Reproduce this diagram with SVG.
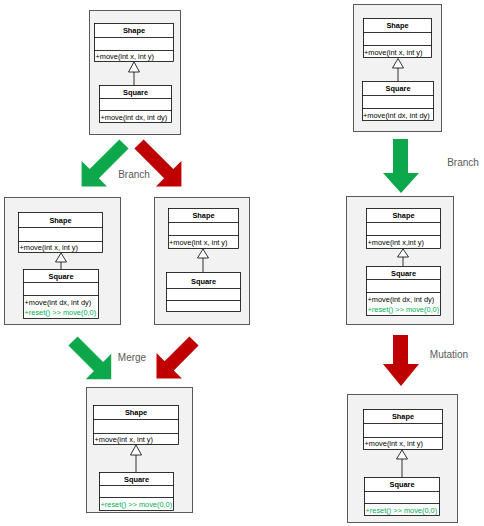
<svg xmlns="http://www.w3.org/2000/svg" width="484" height="526" viewBox="0 0 484 526">
<style>
.panel{fill:#f2f2f2;stroke:#595959;stroke-width:1}
.box{fill:#ffffff;stroke:#000000;stroke-width:0.8}
.sep{stroke:#000000;stroke-width:0.8}
.tri{fill:#ffffff;stroke:#000000;stroke-width:0.8}
.cls{font-family:"Liberation Sans",Arial,sans-serif;font-size:7.4px;font-weight:bold;fill:#000;text-anchor:middle}
.m{font-family:"Liberation Sans",Arial,sans-serif;font-size:7.4px;fill:#000}
.g{font-family:"Liberation Sans",Arial,sans-serif;font-size:7.4px;fill:#00b050}
.lbl{font-family:"Liberation Sans",Arial,sans-serif;font-size:10px;fill:#595959;text-anchor:middle}
.ga{fill:#0ea84c}
.ra{fill:#c00000}
</style>
<rect width="484" height="526" fill="#ffffff"/>

<g id="panel1">
<rect class="panel" x="89.5" y="10.5" width="91" height="124"/>
<rect class="box" x="94.5" y="23.5" width="79" height="38"/>
<line class="sep" x1="94.5" y1="37.5" x2="173.5" y2="37.5"/>
<line class="sep" x1="94.5" y1="50.5" x2="173.5" y2="50.5"/>
<text class="cls" x="134" y="33">Shape</text>
<text class="m" x="95.5" y="58.5">+move(int x, int y)</text>
<line class="sep" x1="134" y1="72" x2="134" y2="85"/>
<polygon class="tri" points="134,62 128.5,72 139.5,72"/>
<rect class="box" x="99.5" y="85.5" width="72" height="37"/>
<line class="sep" x1="99.5" y1="98.5" x2="171.5" y2="98.5"/>
<line class="sep" x1="99.5" y1="110.5" x2="171.5" y2="110.5"/>
<text class="cls" x="135.5" y="95">Square</text>
<text class="m" x="100.5" y="119.5">+move(int dx, int dy)</text>
</g>

<g id="panel2">
<rect class="panel" x="4.5" y="197.5" width="116" height="127"/>
<rect class="box" x="18.5" y="212.5" width="84" height="40"/>
<line class="sep" x1="18.5" y1="227.5" x2="102.5" y2="227.5"/>
<line class="sep" x1="18.5" y1="241.5" x2="102.5" y2="241.5"/>
<text class="cls" x="60.5" y="223">Shape</text>
<text class="m" x="19.5" y="250">+move(int x, int y)</text>
<line class="sep" x1="61" y1="262" x2="61" y2="269"/>
<polygon class="tri" points="61,253 55.5,262 66.5,262"/>
<rect class="box" x="23.5" y="269.5" width="75" height="49"/>
<line class="sep" x1="23.5" y1="282.5" x2="98.5" y2="282.5"/>
<line class="sep" x1="23.5" y1="295.5" x2="98.5" y2="295.5"/>
<text class="cls" x="61" y="279">Square</text>
<text class="m" x="24.5" y="304.5">+move(int dx, int dy)</text>
<text class="g" x="24.5" y="314.5">+reset() &gt;&gt; move(0,0)</text>
</g>

<g id="panel3">
<rect class="panel" x="154.5" y="197.5" width="95" height="127"/>
<rect class="box" x="168.5" y="208.5" width="70" height="40"/>
<line class="sep" x1="168.5" y1="222.5" x2="238.5" y2="222.5"/>
<line class="sep" x1="168.5" y1="235.5" x2="238.5" y2="235.5"/>
<text class="cls" x="203.5" y="218">Shape</text>
<text class="m" x="169" y="245">+move(int x, int y)</text>
<line class="sep" x1="203" y1="258" x2="203" y2="272"/>
<polygon class="tri" points="203,249 197.5,258 208.5,258"/>
<rect class="box" x="166.5" y="272.5" width="74" height="39"/>
<line class="sep" x1="166.5" y1="288.5" x2="240.5" y2="288.5"/>
<line class="sep" x1="166.5" y1="300.5" x2="240.5" y2="300.5"/>
<text class="cls" x="203.5" y="283.5">Square</text>
</g>

<g id="panel4">
<rect class="panel" x="86.5" y="387.5" width="106" height="125"/>
<rect class="box" x="93.5" y="405.5" width="85" height="39"/>
<line class="sep" x1="93.5" y1="419.5" x2="178.5" y2="419.5"/>
<line class="sep" x1="93.5" y1="433.5" x2="178.5" y2="433.5"/>
<text class="cls" x="136" y="415">Shape</text>
<text class="m" x="94.5" y="441.5">+move(int x, int y)</text>
<line class="sep" x1="136" y1="455" x2="136" y2="472"/>
<polygon class="tri" points="136,445 130.5,455 141.5,455"/>
<rect class="box" x="99.5" y="472.5" width="74" height="38"/>
<line class="sep" x1="99.5" y1="485.5" x2="173.5" y2="485.5"/>
<line class="sep" x1="99.5" y1="497.5" x2="173.5" y2="497.5"/>
<text class="cls" x="136.5" y="482">Square</text>
<text class="g" x="100.5" y="507">+reset() &gt;&gt; move(0,0)</text>
</g>

<g id="panelA">
<rect class="panel" x="353.5" y="4.5" width="88" height="127"/>
<rect class="box" x="363.5" y="18.5" width="68" height="39"/>
<line class="sep" x1="363.5" y1="32.5" x2="431.5" y2="32.5"/>
<line class="sep" x1="363.5" y1="45.5" x2="431.5" y2="45.5"/>
<text class="cls" x="397.5" y="28">Shape</text>
<text class="m" x="364" y="54.5">+move(int x, int y)</text>
<line class="sep" x1="398" y1="68" x2="398" y2="81"/>
<polygon class="tri" points="398,58.5 392.5,68 403.5,68"/>
<rect class="box" x="362.5" y="81.5" width="71" height="39"/>
<line class="sep" x1="362.5" y1="95.5" x2="433.5" y2="95.5"/>
<line class="sep" x1="362.5" y1="108.5" x2="433.5" y2="108.5"/>
<text class="cls" x="398" y="91">Square</text>
<text class="m" x="363" y="117.5">+move(int dx, int dy)</text>
</g>

<g id="panelB">
<rect class="panel" x="346.5" y="196.5" width="107" height="128"/>
<rect class="box" x="366.5" y="208.5" width="74" height="40"/>
<line class="sep" x1="366.5" y1="222.5" x2="440.5" y2="222.5"/>
<line class="sep" x1="366.5" y1="235.5" x2="440.5" y2="235.5"/>
<text class="cls" x="403.5" y="218">Shape</text>
<text class="m" x="367.5" y="245">+move(int x,int y)</text>
<line class="sep" x1="403" y1="257" x2="403" y2="266"/>
<polygon class="tri" points="403,249 397.5,257 408.5,257"/>
<rect class="box" x="366.5" y="266.5" width="74" height="49"/>
<line class="sep" x1="366.5" y1="279.5" x2="440.5" y2="279.5"/>
<line class="sep" x1="366.5" y1="292.5" x2="440.5" y2="292.5"/>
<text class="cls" x="403.5" y="276">Square</text>
<text class="m" x="367.5" y="301.5">+move(int dx, int dy)</text>
<text class="g" x="367.5" y="311.5">+reset() &gt;&gt; move(0,0)</text>
</g>

<g id="panelC">
<rect class="panel" x="347.5" y="394.5" width="110" height="128"/>
<rect class="box" x="363.5" y="409.5" width="79" height="40"/>
<line class="sep" x1="363.5" y1="423.5" x2="442.5" y2="423.5"/>
<line class="sep" x1="363.5" y1="437.5" x2="442.5" y2="437.5"/>
<text class="cls" x="403" y="419">Shape</text>
<text class="m" x="364.5" y="446">+move(int x, int y)</text>
<line class="sep" x1="402" y1="459" x2="402" y2="477"/>
<polygon class="tri" points="402,450 396.5,459 407.5,459"/>
<rect class="box" x="364.5" y="477.5" width="75" height="38"/>
<line class="sep" x1="364.5" y1="491.5" x2="439.5" y2="491.5"/>
<line class="sep" x1="364.5" y1="503.5" x2="439.5" y2="503.5"/>
<text class="cls" x="402" y="487">Square</text>
<text class="g" x="365.5" y="512.5">+reset() &gt;&gt; move(0,0)</text>
</g>

<g id="connectors">
<polygon class="ga" points="128.6,148.6 98.9,178.3 107,186.4 81.6,186.4 81.6,161 89.7,169.1 119.4,139.4"/>
<polygon class="ra" points="134.4,148.6 164.1,178.3 156,186.4 181.4,186.4 181.4,161 173.3,169.1 143.6,139.4"/>
<text class="lbl" x="134" y="178">Branch</text>
<polygon class="ga" points="68.4,345.6 93.9,371.1 85.8,379.2 111.2,379.2 111.2,353.8 103.1,361.9 77.6,336.4"/>
<polygon class="ra" points="198.6,345.6 173.8,370.4 181.9,378.5 156.5,378.5 156.5,353.1 164.6,361.2 189.4,336.4"/>
<text class="lbl" x="132" y="361">Merge</text>
<polygon class="ga" points="393,139 408,139 408,173 419,173 401,193 383,173 393,173"/>
<text class="lbl" x="463" y="166">Branch</text>
<polygon class="ra" points="393,335 408,335 408,364 419,364 401,386 383,364 393,364"/>
<text class="lbl" x="449" y="358">Mutation</text>
</g>
</svg>
